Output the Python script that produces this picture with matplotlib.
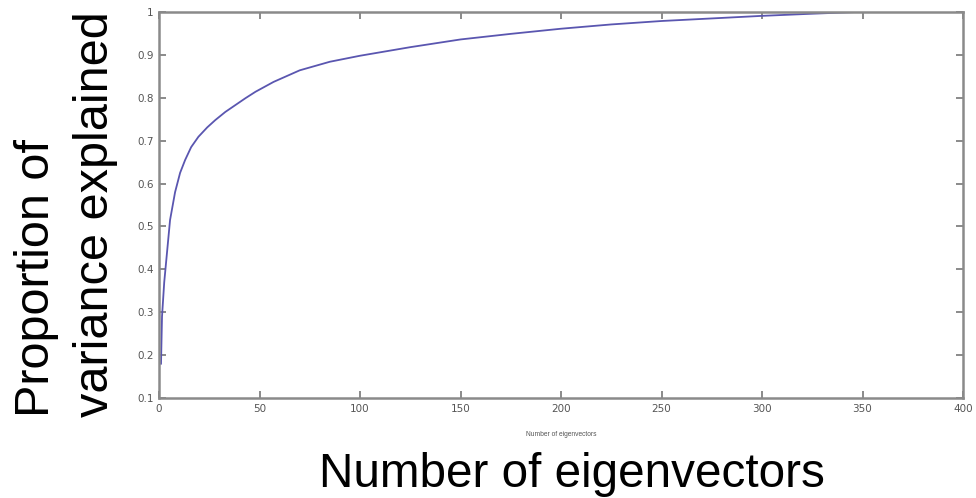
import matplotlib
matplotlib.use("Agg")
import matplotlib.pyplot as plt

# Data (cumulative proportion of variance explained)
n_eigenvectors = [1, 1.5, 2.6, 4, 5.5, 8, 10.5, 13, 16, 19.6, 24, 28, 33, 38,
                  43, 48, 57, 70, 85, 100, 125, 150, 175, 200, 225, 250, 275,
                  300, 325, 347]
proportion = [0.18, 0.29, 0.37, 0.44, 0.515, 0.58, 0.625, 0.655, 0.685, 0.709,
              0.731, 0.748, 0.767, 0.783, 0.799, 0.814, 0.837, 0.864, 0.884,
              0.898, 0.918, 0.936, 0.949, 0.961, 0.971, 0.979, 0.985, 0.991,
              0.996, 1.0]

x_ticks = [0, 50, 100, 150, 200, 250, 300, 350, 400]
y_ticks = [0.1, 0.2, 0.3, 0.4, 0.5, 0.6, 0.7, 0.8, 0.9, 1.0]
y_tick_labels = ["0.1", "0.2", "0.3", "0.4", "0.5", "0.6", "0.7", "0.8", "0.9", "1"]

W, H = 976, 498
fig = plt.figure(figsize=(W / 100, H / 100), dpi=100)
fig.patch.set_facecolor("white")

ax = fig.add_axes([159 / W, 1 - 398 / H, (963 - 159) / W, (398 - 12) / H])
ax.plot(n_eigenvectors, proportion, color="#5a56b0", lw=1.3,
        solid_joinstyle="round")
ax.set_xlim(0, 400)
ax.set_ylim(0.1, 1.0)
ax.set_xticks(x_ticks)
ax.set_xticklabels([str(t) for t in x_ticks])
ax.set_yticks(y_ticks)
ax.set_yticklabels(y_tick_labels)
ax.tick_params(direction="in", top=True, right=True, length=5, width=1.2,
               color="#777777", labelsize=7.5, labelcolor="#555555", pad=4)
for s in ax.spines.values():
    s.set_color("#8a8a8a")
    s.set_linewidth(1.8)

# small axis label under ticks
ax.text(0.5, -0.095, "Number of eigenvectors", transform=ax.transAxes,
        ha="center", va="center", fontsize=4.8, color="#555555",
        family="Liberation Sans")

# large overlay labels
big = dict(family="Liberation Sans", color="black")
fig.text(572 / W, 1 - 487 / H, "Number of eigenvectors", ha="center",
         va="baseline", fontsize=34.3, **big)
fig.text(37 / W, 1 - 417 / H, "Proportion of", rotation=90, ha="center",
         va="bottom", fontsize=35, **big)
fig.text(96 / W, 1 - 417 / H, "variance explained", rotation=90, ha="center",
         va="bottom", fontsize=35, **big)

fig.savefig("out.png", dpi=100, facecolor="white")
